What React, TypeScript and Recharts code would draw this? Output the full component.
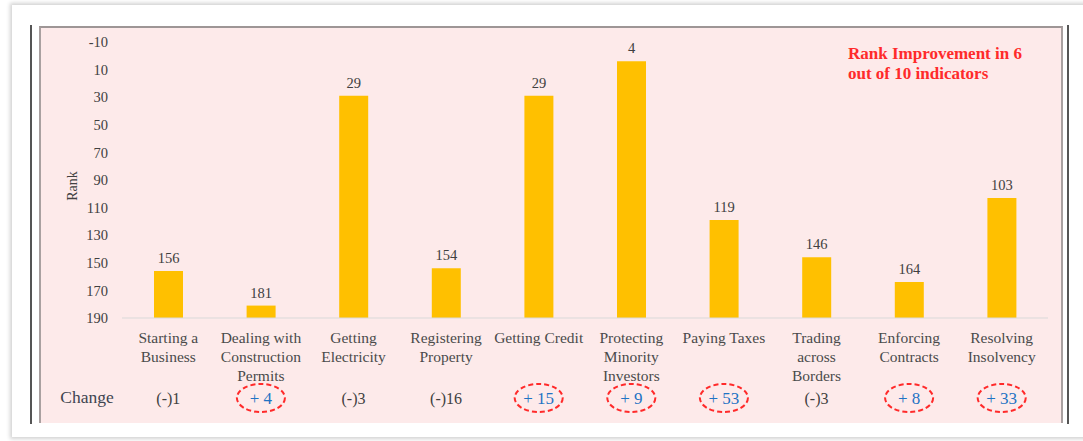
import { BarChart, Bar, XAxis, YAxis, LabelList } from 'recharts';

const categories = [
    'Starting a\nBusiness',
    'Dealing with\nConstruction\nPermits',
    'Getting\nElectricity',
    'Registering\nProperty',
    'Getting Credit',
    'Protecting\nMinority\nInvestors',
    'Paying Taxes',
    'Trading\nacross\nBorders',
    'Enforcing\nContracts',
    'Resolving\nInsolvency',
];
const ranks = [156, 181, 29, 154, 29, 4, 119, 146, 164, 103];
const changes = ['(-)1', '+ 4', '(-)3', '(-)16', '+ 15', '+ 9', '+ 53', '(-)3', '+ 8', '+ 33'];
const rankTicks = [-10, 10, 30, 50, 70, 90, 110, 130, 150, 170, 190];

const data = categories.map((name, i) => ({ name, rank: ranks[i], change: changes[i] }));

const FONT = '"Liberation Serif", "DejaVu Serif", serif';

const CategoryTick = (props: any) => {
    const { x, y, payload, index } = props;
    const lines = String(payload.value).split('\n');
    const change = changes[index];
    const improved = change.startsWith('+');
    return (
        <g>
            {lines.map((line, i) => (
                <text key={i} x={x} y={y + 17 + i * 19} textAnchor="middle" fontSize={15.5} fill="#4a4a4a" fontFamily={FONT}>{line}</text>
            ))}
            {improved && (
                <ellipse cx={x} cy={y + 72} rx={24} ry={14} fill="none" stroke="#ff2a2a" strokeWidth={2} strokeDasharray="5 3" />
            )}
            <text x={x} y={y + 78} textAnchor="middle" fontSize={improved ? 17 : 16} fill={improved ? '#1f73c4' : '#404040'} fontFamily={FONT}>{change}</text>
        </g>
    );
};

const ChangeHeader = (props: any) => {
    const { viewBox } = props;
    return <text x={viewBox.x - 35} y={viewBox.y + 85} textAnchor="middle" fontSize={17.5} fill="#3e4450" fontFamily={FONT}>Change</text>;
};

const RankLabel = (props: any) => {
    const { viewBox } = props;
    const cy = viewBox.y + viewBox.height / 2 + 6;
    return <text x={77} y={cy} transform={`rotate(-90 77 ${cy})`} textAnchor="middle" fontSize={14} fill="#404040" fontFamily={FONT}>Rank</text>;
};

export default function App() {
    return (
        <div style={{ position: 'absolute', left: 0, top: 0, width: 1083, height: 441, background: '#fff', overflow: 'hidden' }}>
            {/* card */}
            <div style={{ position: 'absolute', left: 12, top: 5, width: 1090, height: 432, background: '#fff', boxShadow: '0 0 4px 2px rgba(0,0,0,0.18)' }} />
            {/* frame */}
            <div style={{ position: 'absolute', left: 30, top: 25, width: 2, height: 399, background: '#555' }} />
            <div style={{ position: 'absolute', left: 1067, top: 25, width: 2, height: 399, background: '#555' }} />
            <div style={{ position: 'absolute', left: 39, top: 26, width: 1024, height: 397, background: '#fdeaea', borderTop: '2px solid #9e9696', borderLeft: '2px solid #a9a0a0', borderRight: '2px solid #a9a0a0', boxSizing: 'border-box' }} />
            <div style={{ position: 'absolute', left: 848, top: 44, fontFamily: FONT, fontWeight: 700, fontSize: 17, lineHeight: '20px', color: '#ff2a2a' }}>
                Rank Improvement in 6<br />out of 10 indicators
            </div>
            <div style={{ position: 'absolute', left: 0, top: 0 }}>
                <BarChart width={1083} height={441} data={data} margin={{ top: 42, right: 35, left: 0, bottom: 0 }}>
                    <XAxis dataKey="name" height={123} interval={0} tickLine={false} axisLine={{ stroke: '#d9d9d9' }} tick={<CategoryTick />} label={<ChangeHeader />} />
                    <YAxis type="number" width={122} domain={[-10, 190]} ticks={rankTicks} reversed axisLine={false} tickLine={false} tickMargin={8} tick={{ fontSize: 14.5, fill: '#404040', fontFamily: FONT }} label={<RankLabel />} />
                    <Bar dataKey={(d: any) => [190, d.rank]} fill="#ffc000" barSize={29} isAnimationActive={false}>
                        <LabelList dataKey="rank" position="top" offset={8} fontSize={14.5} fill="#404040" fontFamily={FONT} />
                    </Bar>
                </BarChart>
            </div>
        </div>
    );
}
